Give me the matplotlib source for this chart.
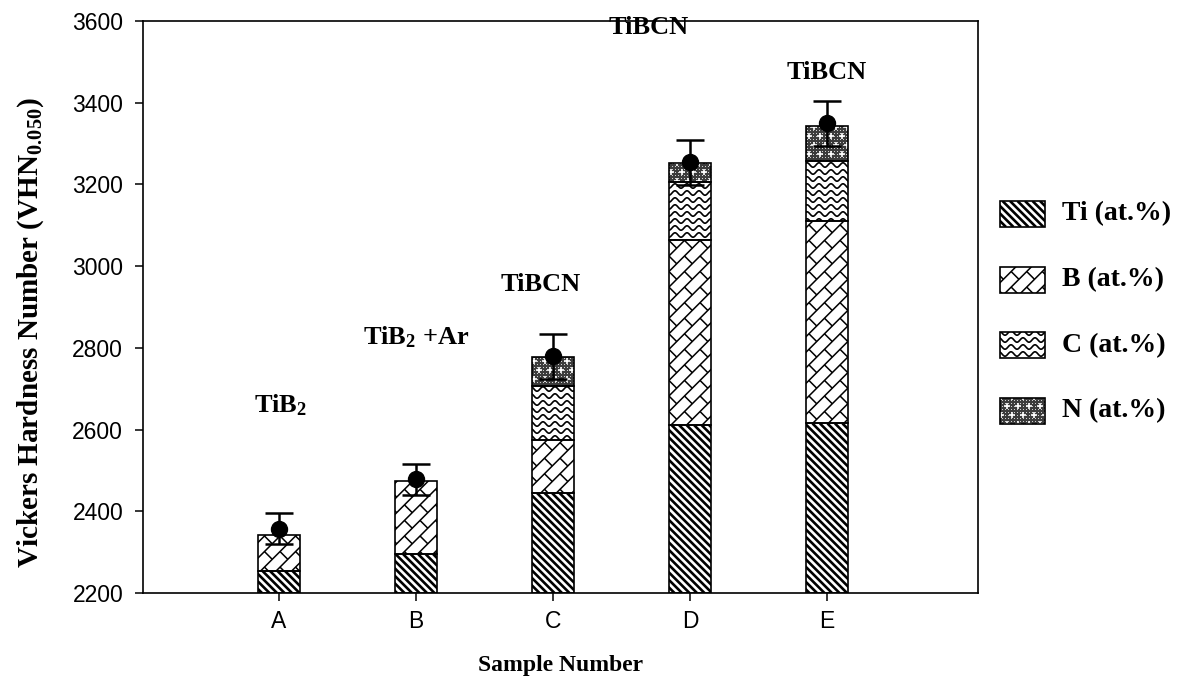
# Vickers hardness of the deposited films with the layer composition stacked in each bar

import numpy as np
import matplotlib
matplotlib.use("Agg")
import matplotlib.pyplot as plt
from matplotlib.collections import LineCollection
from matplotlib.lines import Line2D
from matplotlib.patches import Rectangle
from matplotlib.transforms import IdentityTransform

OUT_FIG = "out.png"

samples = ["A", "B", "C", "D", "E"]

# stacked composition, given as the top of each layer on the VHN axis
base = 2200
ti_top = [2255, 2295, 2445, 2612, 2615]
b_top = [2342, 2475, 2575, 3065, 3110]
c_top = [2342, 2475, 2707, 3205, 3257]
n_top = [2342, 2475, 2777, 3253, 3342]

# measured hardness and its spread
hardness = [2357, 2478, 2779, 3254, 3350]
hardness_err = [38, 38, 55, 55, 55]

film_labels = ["TiB$_\\mathbf{2}$", "TiB$_\\mathbf{2}$ +Ar", "TiBCN", "TiBCN", "TiBCN"]
legend_names = ["Ti (at.%)", "B (at.%)", "C (at.%)", "N (at.%)"]

W, H, DPI = 1180, 676, 100

plt.rcParams["font.family"] = "Liberation Sans"
plt.rcParams["mathtext.fontset"] = "custom"
plt.rcParams["mathtext.rm"] = "Liberation Serif:bold"
plt.rcParams["mathtext.bf"] = "Liberation Serif:bold"
plt.rcParams["mathtext.it"] = "Liberation Serif:bold"

SERIF = dict(family="Liberation Serif", weight="bold")


def pattern_segments(kind, x0, y0, x1, y1):
    """Line pieces (in pixels) for the fill textures."""
    segs = []
    if kind == "ti":
        step = 7.5
        for c in np.arange(np.floor((x0 + y0) / step) * step, x1 + y1 + step, step):
            segs.append([(c - y1, y1), (c - y0, y0)])
    elif kind == "b":
        d, brick = 11.0, 22.0
        u = np.array([1.0, 1.0]) / np.sqrt(2)
        v = np.array([1.0, -1.0]) / np.sqrt(2)
        corners = np.array([[x0, y0], [x1, y0], [x0, y1], [x1, y1]])
        a, b = corners @ u, corners @ v
        for k in range(int(np.floor(b.min() / d)) - 1, int(np.ceil(b.max() / d)) + 1):
            segs.append([a.min() * u + k * d * v, a.max() * u + k * d * v])
            off = (k % 2) * brick / 2
            for j in range(int(np.floor((a.min() - off) / brick)) - 1,
                           int(np.ceil((a.max() - off) / brick)) + 1):
                aa = j * brick + off
                segs.append([aa * u + k * d * v, aa * u + (k + 1) * d * v])
    elif kind == "c":
        dy, lam, amp = 7.0, 12.0, 2.2
        xs = np.arange(x0 - 1, x1 + 1.5, 0.5)
        for yy in np.arange(np.floor(y0 / dy) * dy, y1 + dy, dy):
            segs.append(np.column_stack([xs, yy + amp * np.sin(2 * np.pi * xs / lam)]))
    return segs


def fill_texture(ax, rect, kind):
    (x0, y0), (x1, y1) = ax.transData.transform(
        [(rect.get_x(), rect.get_y()),
         (rect.get_x() + rect.get_width(), rect.get_y() + rect.get_height())])
    x0, x1 = sorted((x0, x1))
    y0, y1 = sorted((y0, y1))
    if kind == "n":
        rect.set_facecolor("#3c3c3c")
        gx = np.arange(np.floor(x0 / 3) * 3, x1 + 3, 3)
        gy = np.arange(np.floor(y0 / 3) * 3, y1 + 3, 3)
        px, py = np.meshgrid(gx, gy)
        dots = Line2D(px.ravel(), py.ravel(), ls="none", marker="s", ms=0.7,
                      mew=0, color="#d0d0d0", transform=IdentityTransform(), zorder=2.5)
        ax.add_artist(dots)
        dots.set_clip_path(rect)
        sx, sy = [], []
        for i, yy in enumerate(np.arange(np.floor(y0 / 9) * 9, y1 + 9, 9)):
            for xx in np.arange(np.floor(x0 / 11) * 11 + (i % 2) * 5.5, x1 + 11, 11):
                sx.append(xx)
                sy.append(yy)
        stars = Line2D(sx, sy, ls="none", marker="+", ms=4, mew=1.2,
                       color="white", transform=IdentityTransform(), zorder=2.5)
        ax.add_artist(stars)
        stars.set_clip_path(rect)
    else:
        lw = {"ti": 1.9, "b": 1.1, "c": 1.2}[kind]
        lc = LineCollection(pattern_segments(kind, x0, y0, x1, y1), colors="black",
                            linewidths=lw, transform=IdentityTransform(), zorder=2.5)
        ax.add_collection(lc, autolim=False)
        lc.set_clip_path(rect)
    # outline on top of the texture
    ax.add_patch(Rectangle((rect.get_x(), rect.get_y()), rect.get_width(),
                           rect.get_height(), fill=False, edgecolor="black",
                           linewidth=1.2, zorder=3))


def main():
    fig = plt.figure(figsize=(W / DPI, H / DPI), dpi=DPI)
    ax = fig.add_axes([143 / W, 1 - 593 / H, (978 - 143) / W, (593 - 21) / H])
    ax.set_xlim(-0.99, 5.1)
    ax.set_ylim(2200, 3600)

    x = np.arange(len(samples))
    layers = [("ti", ti_top), ("b", b_top), ("c", c_top), ("n", n_top)]
    bottom = np.full(len(samples), base, dtype=float)
    for kind, tops in layers:
        tops = np.asarray(tops, dtype=float)
        heights = tops - bottom
        for i in range(len(samples)):
            if heights[i] <= 0:
                continue
            bar = ax.bar(x[i], heights[i], bottom=bottom[i], width=0.307,
                         color="white", edgecolor="none", zorder=2)[0]
            fill_texture(ax, bar, kind)
        bottom = np.maximum(bottom, tops)

    ax.errorbar(x, hardness, yerr=hardness_err, fmt="o", color="black", ms=11.5,
                elinewidth=1.8, capsize=10, capthick=1.8, zorder=5)

    label_x = [0.01, 1.0, 1.91, 2.7, 4.0]
    label_y = [2660, 2827, 2954, 3583, 3473]
    for lx, ly, txt in zip(label_x, label_y, film_labels):
        ax.text(lx, ly, txt, ha="center", va="center", fontsize=19, **SERIF)

    ax.set_xticks(x)
    ax.set_xticklabels(samples)
    ax.set_yticks(np.arange(2200, 3601, 200))
    ax.tick_params(direction="out", length=5.8, width=1.1, labelsize=16.5)
    ax.tick_params(axis="y", pad=8.5)
    ax.tick_params(axis="x", pad=6.5)
    for sp in ax.spines.values():
        sp.set_linewidth(1.2)
    ax.set_xlabel("Sample Number", fontsize=17, labelpad=16, **SERIF)
    ax.set_ylabel("Vickers Hardness Number (VHN$_{\\mathbf{0.050}}$)",
                  fontsize=21, **SERIF)
    ax.yaxis.set_label_coords(-0.116, 0.455)

    # legend drawn by hand in pixel space so the textures match the bars
    lax = fig.add_axes([0, 0, 1, 1])
    lax.set_xlim(0, W)
    lax.set_ylim(H, 0)
    lax.axis("off")
    for k, ((kind, _), name) in enumerate(zip(layers, legend_names)):
        cy = 214 + 65.7 * k
        box = Rectangle((1000, cy - 13), 45, 26, facecolor="white", edgecolor="none")
        lax.add_patch(box)
        fill_texture(lax, box, kind)
        lax.text(1062, cy, name, ha="left", va="center", fontsize=20, **SERIF)

    fig.savefig(OUT_FIG, dpi=DPI)
    plt.close(fig)


if __name__ == "__main__":
    main()
